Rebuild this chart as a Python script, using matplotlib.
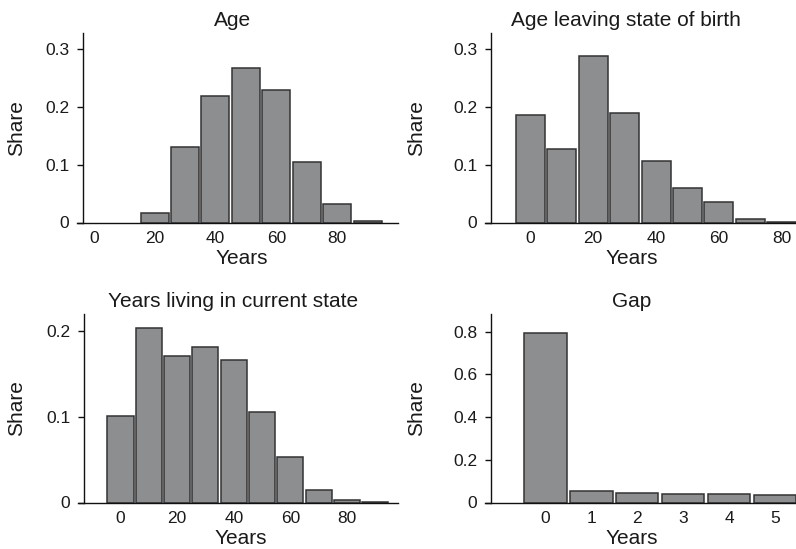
import matplotlib
matplotlib.use("Agg")
import matplotlib.pyplot as plt
import numpy as np

plt.rcParams["font.family"] = ["Liberation Sans", "DejaVu Sans"]

# shares per 10-year bin (bin centres)
age_bins = [0, 10, 20, 30, 40, 50, 60, 70, 80, 90]
age_share = [0.0, 0.0, 0.0156, 0.130, 0.219, 0.267, 0.230, 0.105, 0.032, 0.003]

leave_bins = [0, 10, 20, 30, 40, 50, 60, 70, 80]
leave_share = [0.186, 0.128, 0.288, 0.190, 0.106, 0.060, 0.036, 0.006, 0.001]

stay_bins = [0, 10, 20, 30, 40, 50, 60, 70, 80, 90]
stay_share = [0.1006, 0.2035, 0.1715, 0.182, 0.1665, 0.106, 0.0526, 0.0144, 0.003, 0.001]

gap_bins = [0, 1, 2, 3, 4, 5]
gap_share = [0.794, 0.053, 0.044, 0.041, 0.0375, 0.034]

W, H = 796, 549
BAR_FILL = "#8d8e90"
BAR_EDGE = "#333333"
TXT = "#1a1a1a"

fig = plt.figure(figsize=(W / 100, H / 100), dpi=100)


def px_axes(x0, x1, y_top, y_bot):
    return fig.add_axes([x0 / W, 1 - y_bot / H, (x1 - x0) / W, (y_bot - y_top) / H])


def hist_panel(ax, bins, share, width, xlim, ylim, xticks, yticks, ylabels,
               title, title_x, xlabel_x):
    bins = np.asarray(bins, dtype=float)
    share = np.asarray(share, dtype=float)
    keep = share > 0  # empty bins draw nothing
    ax.bar(bins[keep], share[keep], width=width, color=BAR_FILL,
           edgecolor=BAR_EDGE, linewidth=1.1)
    ax.set_xlim(*xlim)
    ax.set_ylim(*ylim)
    for s in ("top", "right"):
        ax.spines[s].set_visible(False)
    ax.spines["left"].set_position(("axes", 0.019))
    ax.spines["left"].set_bounds(0, ylim[1])
    for s in ("left", "bottom"):
        ax.spines[s].set_linewidth(1.0)
        ax.spines[s].set_color("#111111")
    ax.set_xticks(xticks)
    ax.set_xticklabels([str(t) for t in xticks])
    ax.set_yticks(yticks)
    ax.set_yticklabels(ylabels)
    ax.tick_params(axis="x", length=0, pad=6.3, labelsize=12.5, labelcolor=TXT)
    ax.tick_params(axis="y", length=4.3, width=1.0, pad=5.6, labelsize=12.5,
                   labelcolor=TXT, color="#111111")
    ax.set_title(title, fontsize=15, color=TXT, pad=5, x=title_x)
    ax.set_xlabel("Years", fontsize=15, color=TXT, labelpad=2.2)
    ax.xaxis.label.set_x(xlabel_x)
    ax.set_ylabel("Share", fontsize=15, color=TXT, va="center")


ax1 = px_axes(77, 398, 33, 222.5)
hist_panel(ax1, age_bins, age_share, 9.2, (-5.5, 100), (0, 0.328),
           [0, 20, 40, 60, 80], [0, 0.1, 0.2, 0.3], ["0", "0.1", "0.2", "0.3"],
           "Age", 0.483, 0.513)
ax1.yaxis.set_label_coords((17 - 77) / 321, 0.5)

ax2 = px_axes(485, 796, 33, 222.5)
hist_panel(ax2, leave_bins, leave_share, 9.2, (-14.4, 84.5), (0, 0.328),
           [0, 20, 40, 60, 80], [0, 0.1, 0.2, 0.3], ["0", "0.1", "0.2", "0.3"],
           "Age leaving state of birth", 0.453, 0.472)
ax2.yaxis.set_label_coords((417 - 485) / 311, 0.5)

ax3 = px_axes(78, 398, 314, 502.5)
hist_panel(ax3, stay_bins, stay_share, 9.2, (-15, 98), (0, 0.22),
           [0, 20, 40, 60, 80], [0, 0.1, 0.2], ["0", "0.1", "0.2"],
           "Years living in current state", 0.485, 0.51)
ax3.yaxis.set_label_coords((17 - 78) / 320, 0.5)

ax4 = px_axes(485, 796, 314, 502.5)
hist_panel(ax4, gap_bins, gap_share, 0.92, (-1.32, 5.46), (0, 0.883),
           [0, 1, 2, 3, 4, 5], [0, 0.2, 0.4, 0.6, 0.8],
           ["0", "0.2", "0.4", "0.6", "0.8"],
           "Gap", 0.473, 0.472)
ax4.yaxis.set_label_coords((417 - 485) / 311, 0.5)

fig.savefig("out.png", dpi=100)
